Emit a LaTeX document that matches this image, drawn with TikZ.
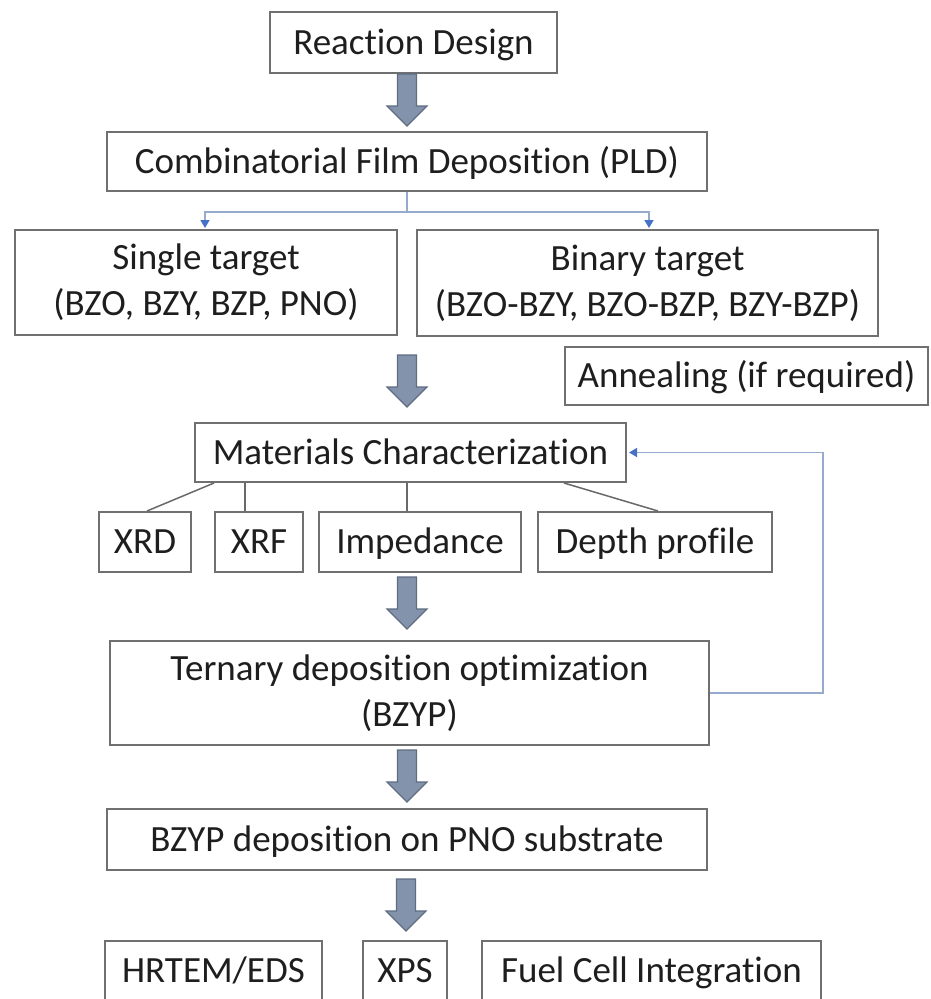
\documentclass[tikz,border=0pt]{standalone}
\usepackage{fontspec}
\setmainfont{Carlito}[Ligatures=NoCommon]
\usetikzlibrary{arrows.meta,calc}
\definecolor{boxline}{RGB}{112,112,112}
\definecolor{txt}{RGB}{30,30,30}
\definecolor{fatfill}{RGB}{132,147,172}
\definecolor{fatline}{RGB}{95,108,130}
\definecolor{linkblue}{RGB}{150,170,205}
\definecolor{tipblue}{RGB}{68,114,196}
\definecolor{subline}{RGB}{105,105,105}
\begin{document}
\begin{tikzpicture}[x=1pt,y=-1pt,
  box/.style={draw=boxline, line width=2pt, rectangle, inner sep=0pt, text=txt,
    font=\fontsize{37}{46}\selectfont, align=center},
  one/.style={text height=23pt, text depth=0pt},
  fat/.pic={\filldraw[fill=fatfill, draw=fatline, line width=1.2pt]
    (-9.5,0) -- (-9.5,32) -- (-20,32) -- (0,52) -- (20,32) -- (9.5,32) -- (9.5,0) -- cycle;},
  link/.style={draw=linkblue, line width=1.6pt},
  tip/.style={-{Triangle[length=8pt,width=9pt,color=tipblue]}},
  sub/.style={draw=subline, line width=1.5pt}]
\useasboundingbox (0,0) rectangle (931,999);
\fill[white] (0,0) rectangle (931,999);
\clip (0,0) rectangle (931,999);

% boxes
\node[box,one,minimum width=287pt,minimum height=61pt] (rd) at (413.5,42.5) {Reaction Design};
\node[box,one,minimum width=600pt,minimum height=59pt] (cfd) at (407,161.5) {Combinatorial Film Deposition (PLD)};
\node[box,minimum width=382pt,minimum height=105pt] (st) at (206,282.5) {Single target\\(BZO, BZY, BZP, PNO)};
\node[box,minimum width=461pt,minimum height=106pt] (bt) at (647.5,283) {Binary target\\(BZO-BZY, BZO-BZP, BZY-BZP)};
\node[box,one,minimum width=363pt,minimum height=58pt] (ann) at (746.5,376) {Annealing (if required)};
\node[box,one,minimum width=431pt,minimum height=59pt] (mc) at (410.5,452.5) {Materials Characterization};
\node[box,one,minimum width=92pt,minimum height=60pt] (xrd) at (145,542) {XRD};
\node[box,one,minimum width=88pt,minimum height=60pt] (xrf) at (259,542) {XRF};
\node[box,one,minimum width=202pt,minimum height=60pt] (imp) at (420,542) {Impedance};
\node[box,one,minimum width=234pt,minimum height=60pt] (dp) at (655,542) {Depth profile};
\node[box,minimum width=599pt,minimum height=104pt] (tdo) at (409.5,693) {Ternary deposition optimization\\(BZYP)};
\node[box,one,minimum width=600pt,minimum height=61pt] (bzyp) at (407,839.5) {BZYP deposition on PNO substrate};
\node[box,one,minimum width=217pt,minimum height=60pt] (hr) at (213.5,971) {HRTEM/EDS};
\node[box,one,minimum width=84pt,minimum height=60pt] (xps) at (405,971) {XPS};
\node[box,one,minimum width=339pt,minimum height=60pt] (fci) at (651.5,971) {Fuel Cell Integration};

% fat arrows
\coordinate (f1) at ($(rd.south)+(-6.5,0)$);
\coordinate (f2) at (407,355);
\coordinate (f3) at (407,577);
\coordinate (f4) at (407,750);
\coordinate (f5) at (406,879);
\pic at (f1) {fat};
\pic at (f2) {fat};
\pic at (f3) {fat};
\pic at (f4) {fat};
\pic at (f5) {fat};

% branch from deposition
\coordinate (bj) at ($(cfd.south)+(0,20)$);
\draw[link] (cfd.south) -- (bj);
\draw[link,tip] (bj) -| ($(st.north)+(-1,-1)$);
\draw[link,tip] (bj) -| ($(bt.north)+(1.5,-1)$);

% characterization sub-lines
\draw[sub] ($(mc.south west)+(20,0)$) -- ($(xrd.north)+(2,0)$);
\coordinate (xrfTop) at ($(xrf.north)+(-14,0)$);
\draw[sub] (xrfTop) -- (xrfTop |- mc.south);
\coordinate (impTop) at ($(imp.north)+(-13,0)$);
\draw[sub] (impTop) -- (impTop |- mc.south);
\draw[sub] ($(mc.south east)+(-63,0)$) -- ($(dp.north)+(3,0)$);

% feedback loop
\coordinate (fbc) at ($(tdo.east)+(113,0)$);
\draw[link,tip] (tdo.east) -- (fbc) |- ($(mc.east)+(2,0)$);
\end{tikzpicture}
\end{document}
